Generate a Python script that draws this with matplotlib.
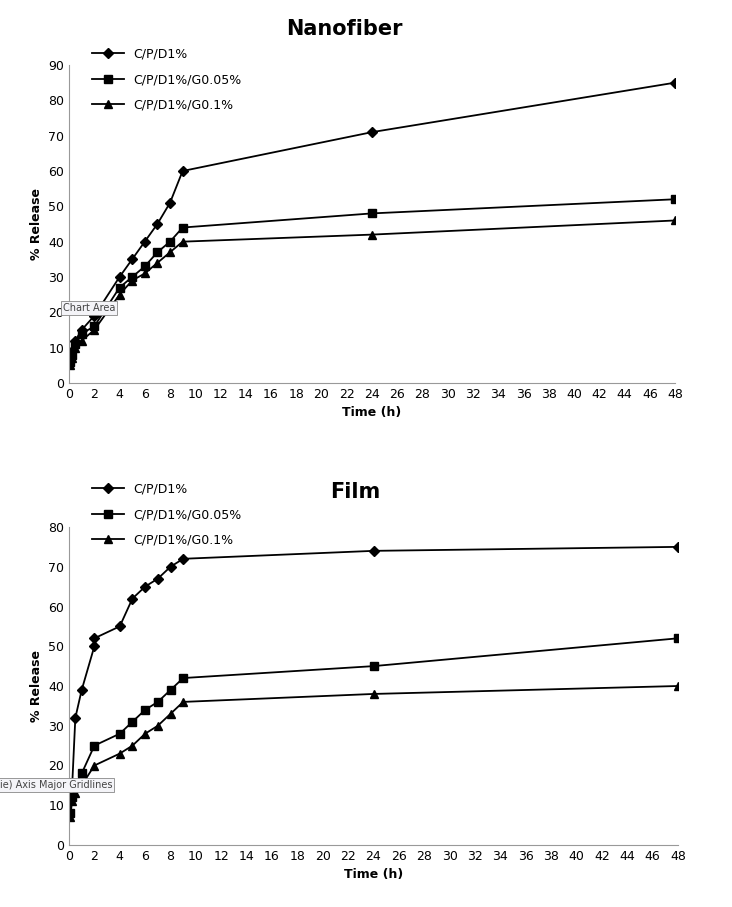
import matplotlib.pyplot as plt

# Nanofiber data
t_nano = [0.083, 0.25, 0.5, 1, 2, 4, 5, 6, 7, 8, 9, 24, 48]
nano_d1 = [7, 9, 12, 15, 19, 30, 35, 40, 45, 51, 60, 71, 85]
nano_g005 = [6, 8, 11, 14, 16, 27, 30, 33, 37, 40, 44, 48, 52]
nano_g01 = [5, 7, 10, 12, 15, 25, 29, 31, 34, 37, 40, 42, 46]

# Film data
t_film_d = [0.083, 0.25, 0.5, 1, 2, 2, 4, 5, 6, 7, 8, 9, 24, 48]
film_d1 = [15.5, 15, 32, 39, 50, 52, 55, 62, 65, 67, 70, 72, 74, 75]
t_film = [0.083, 0.25, 0.5, 1, 2, 4, 5, 6, 7, 8, 9, 24, 48]
film_g005 = [8, 12, 15, 18, 25, 28, 31, 34, 36, 39, 42, 45, 52]
film_g01 = [7, 11, 13, 15, 20, 23, 25, 28, 30, 33, 36, 38, 40]

labels = ['C/P/D1%', 'C/P/D1%/G0.05%', 'C/P/D1%/G0.1%']
markers = ['D', 's', '^']
msizes = [5, 6, 6]

fig = plt.figure(figsize=(7.32, 9.07), dpi=100)
ax1 = fig.add_axes([69/732, 1-383/907, 606/732, 318/907])
ax2 = fig.add_axes([69/732, 1-845/907, 609/732, 318/907])

def style(ax, title, ymax, title_x, title_y, leg_y):
    ax.set_xlim(0, 48)
    ax.set_ylim(0, ymax)
    ax.set_xticks(range(0, 49, 2))
    ax.set_yticks(range(0, ymax + 1, 10))
    ax.tick_params(labelsize=9, length=0)
    for s in ['top', 'right']:
        ax.spines[s].set_visible(False)
    for s in ['left', 'bottom']:
        ax.spines[s].set_color('#999999')
    ax.set_xlabel('Time (h)', fontsize=9, fontweight='bold')
    ax.set_ylabel('% Release', fontsize=9, fontweight='bold')
    fig.text(title_x/732, 1-title_y/907, title, fontsize=15, fontweight='bold',
             ha='center', va='center')
    ax.legend(loc='upper left', frameon=False, fontsize=9, bbox_to_anchor=(0.02, leg_y),
              labelspacing=1.0, handlelength=2.5)

ax1.plot(t_nano, nano_d1, color='black', lw=1.3, marker=markers[0], ms=msizes[0], label=labels[0])
ax1.plot(t_nano, nano_g005, color='black', lw=1.3, marker=markers[1], ms=msizes[1], label=labels[1])
ax1.plot(t_nano, nano_g01, color='black', lw=1.3, marker=markers[2], ms=msizes[2], label=labels[2])
style(ax1, 'Nanofiber', 90, 344, 29, 1.09)

ax2.plot(t_film_d, film_d1, color='black', lw=1.3, marker=markers[0], ms=msizes[0], label=labels[0])
ax2.plot(t_film, film_g005, color='black', lw=1.3, marker=markers[1], ms=msizes[1], label=labels[1])
ax2.plot(t_film, film_g01, color='black', lw=1.3, marker=markers[2], ms=msizes[2], label=labels[2])
style(ax2, 'Film', 80, 355, 492, 1.175)

# tooltip artifacts
box = dict(boxstyle='square,pad=0.2', fc='#f4f4f8', ec='#888888', lw=0.6)
fig.text(63/732, 1-308/907, 'Chart Area', fontsize=7, color='#444444', va='center', bbox=box)
fig.text(0/732, 1-785/907, 'ie) Axis Major Gridlines', fontsize=7, color='#444444', va='center', bbox=box)

fig.savefig('out.png', dpi=100)
